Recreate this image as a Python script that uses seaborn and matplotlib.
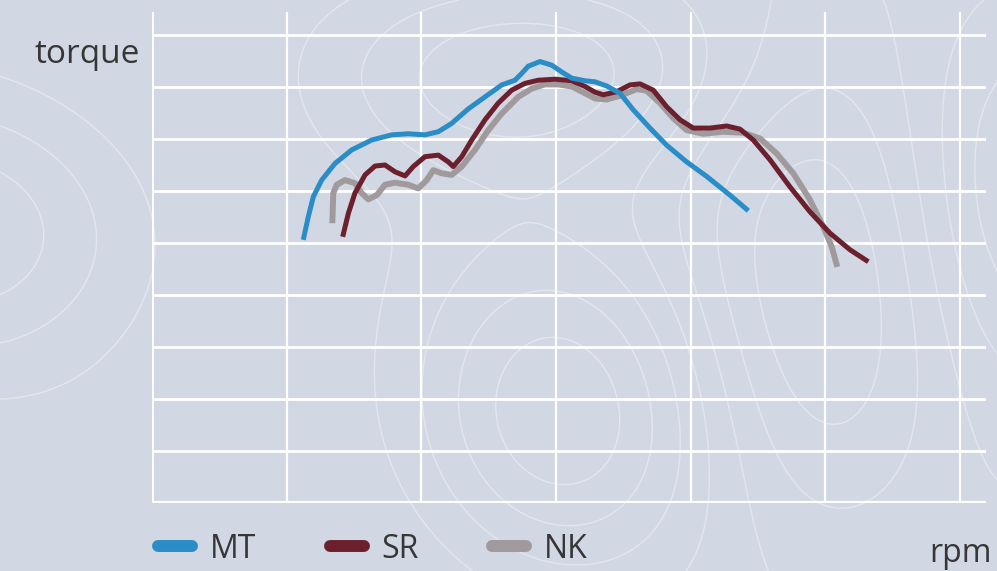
import numpy as np
import pandas as pd
import seaborn as sns
import matplotlib.pyplot as plt
from matplotlib.lines import Line2D

# grid units: x = rpm steps, y = torque steps
mt_rpm = [1.123, 1.161, 1.198, 1.260, 1.359, 1.483, 1.631, 1.780, 1.903, 2.027, 2.126, 2.225,
          2.349, 2.473, 2.597, 2.695, 2.745, 2.794, 2.881, 2.968, 3.042, 3.117, 3.215, 3.290,
          3.376, 3.475, 3.574, 3.698, 3.822, 3.970, 4.119, 4.292, 4.428]
mt_torque = [5.06, 5.51, 5.89, 6.21, 6.53, 6.79, 6.98, 7.08, 7.10, 7.08, 7.14, 7.30,
             7.58, 7.81, 8.04, 8.13, 8.26, 8.40, 8.49, 8.42, 8.29, 8.17, 8.12, 8.10,
             8.02, 7.88, 7.56, 7.21, 6.88, 6.56, 6.28, 5.92, 5.62]

sr_rpm = [1.416, 1.458, 1.507, 1.582, 1.656, 1.730, 1.804, 1.879, 1.940, 2.027, 2.126, 2.200,
          2.237, 2.300, 2.374, 2.473, 2.571, 2.671, 2.770, 2.868, 2.992, 3.117, 3.215, 3.290,
          3.352, 3.451, 3.549, 3.624, 3.722, 3.822, 3.921, 4.019, 4.143, 4.268, 4.366, 4.465,
          4.589, 4.737, 4.886, 5.034, 5.183, 5.319]
sr_torque = [5.12, 5.57, 5.96, 6.31, 6.48, 6.50, 6.37, 6.29, 6.47, 6.66, 6.69, 6.56,
             6.47, 6.66, 6.98, 7.37, 7.69, 7.94, 8.07, 8.13, 8.15, 8.12, 8.01, 7.90,
             7.85, 7.91, 8.04, 8.06, 7.94, 7.62, 7.37, 7.21, 7.21, 7.25, 7.19, 6.98,
             6.60, 6.08, 5.60, 5.19, 4.87, 4.64]

nk_rpm = [1.339, 1.346, 1.372, 1.433, 1.507, 1.557, 1.606, 1.669, 1.730, 1.804, 1.903, 1.977,
          2.040, 2.089, 2.151, 2.225, 2.300, 2.398, 2.497, 2.597, 2.720, 2.820, 2.918, 3.017,
          3.117, 3.215, 3.290, 3.376, 3.475, 3.599, 3.673, 3.772, 3.871, 3.970, 4.094, 4.242,
          4.391, 4.515, 4.639, 4.762, 4.886, 4.985, 5.047, 5.089]
nk_torque = [5.38, 5.96, 6.12, 6.21, 6.15, 5.96, 5.84, 5.92, 6.12, 6.16, 6.12, 6.05,
             6.21, 6.40, 6.34, 6.31, 6.47, 6.79, 7.17, 7.49, 7.81, 7.97, 8.05, 8.05,
             8.01, 7.88, 7.78, 7.76, 7.83, 7.96, 7.93, 7.69, 7.40, 7.17, 7.10, 7.14,
             7.12, 7.01, 6.72, 6.34, 5.83, 5.31, 4.93, 4.54]

series_names = ["MT", "SR", "NK"]
colors = {"MT": "#2a8dc8", "SR": "#6c1f2d", "NK": "#a09a9d"}
widths = {"MT": 3.6, "SR": 3.6, "NK": 4.3}

BG = "#d2d8e3"
TXT = "#363636"

sns.set_theme(style="white")
plt.rcParams["font.family"] = ["Open Sans", "DejaVu Sans"]

fig = plt.figure(figsize=(9.97, 5.71), dpi=100)
fig.patch.set_facecolor(BG)

# decorative topo lines in the background
bg = fig.add_axes([0, 0, 1, 1], zorder=0)
bg.set_facecolor(BG)
gx, gy = np.meshgrid(np.linspace(0, 10, 300), np.linspace(0, 5.7, 200))
field = (0.8 * np.exp(-((gx + 0.3) ** 2 / 3.5 + (gy - 3.4) ** 2 / 2.0))
         + 1.0 * np.exp(-((gx - 5.6) ** 2 / 2.2 + (gy - 1.5) ** 2 / 2.8))
         + 0.7 * np.exp(-((gx - 5.3) ** 2 / 4.0 + (gy - 5.0) ** 2 / 1.0))
         - 0.6 * np.exp(-((gx - 8.3) ** 2 / 1.6 + (gy - 2.5) ** 2 / 6.0))
         + 0.6 * np.exp(-((gx - 10.3) ** 2 / 2.0 + (gy - 3.8) ** 2 / 4.0))
         + 0.12 * np.sin(gx * 0.9 + 0.5) * np.cos(gy * 0.8))
bg.contour(gx, gy, field, levels=9, colors="white", linewidths=1.0, alpha=0.36,
           linestyles="solid")
bg.set_xlim(0, 10)
bg.set_ylim(0, 5.7)
bg.axis("off")

W, H = 997, 571
ax = fig.add_axes([152 / W, (H - 503) / H, (986 - 152) / W, (503 - 12) / H], zorder=1)
ax.patch.set_alpha(0)

df = pd.concat([
    pd.DataFrame({"rpm": mt_rpm, "torque": mt_torque, "series": "MT"}),
    pd.DataFrame({"rpm": sr_rpm, "torque": sr_torque, "series": "SR"}),
    pd.DataFrame({"rpm": nk_rpm, "torque": nk_torque, "series": "NK"}),
], ignore_index=True)

for name in ["NK", "SR", "MT"]:
    sub = df[df["series"] == name]
    sns.lineplot(data=sub, x="rpm", y="torque", sort=False, color=colors[name],
                 linewidth=widths[name], ax=ax, solid_capstyle="butt",
                 solid_joinstyle="round", zorder=3)

ax.set_xlim(0, (986 - 152) / 134.67)
ax.set_ylim(0, (503 - 12) / 52)
ax.grid(False)
for xv in range(1, 7):
    ax.axvline(xv, color="white", lw=1.6, zorder=1)
for yv in range(1, 10):
    ax.axhline(yv, color="white", lw=2.0, zorder=1)
ax.axvline(0, color="white", lw=2.0, zorder=1)
ax.axhline(0, color="white", lw=3.0, zorder=2)
ax.tick_params(left=False, bottom=False, labelleft=False, labelbottom=False)
for s in ax.spines.values():
    s.set_visible(False)
ax.set_xlabel("")
ax.set_ylabel("")

fig.text(140 / W, (H - 63) / H, "torque", ha="right", va="baseline",
         fontsize=24, color=TXT)
fig.text(992 / W, (H - 562) / H, "rpm", ha="right", va="baseline",
         fontsize=23, color=TXT)

handles = [Line2D([0], [0], color=colors[n], lw=8.6, solid_capstyle="round") for n in series_names]
leg = fig.legend(handles, series_names, loc="center left",
                 bbox_to_anchor=(158 / W, (H - 549) / H), ncol=3, frameon=False,
                 fontsize=23, handlelength=1.07, handletextpad=0.55, columnspacing=2.3,
                 borderpad=0, borderaxespad=0)
for t in leg.get_texts():
    t.set_color(TXT)

fig.savefig("out.png", dpi=100, facecolor=BG)
